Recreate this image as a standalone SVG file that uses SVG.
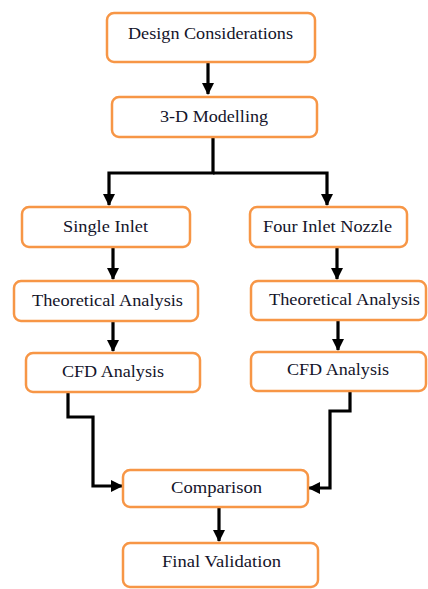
<svg xmlns="http://www.w3.org/2000/svg" width="428" height="589" viewBox="0 0 428 589">
<style>
.box{fill:#fff;stroke:#F79646;stroke-width:2.5}
.t{font-size:17px;fill:#14142a;text-anchor:middle}
.c{fill:none;stroke:#000;stroke-width:3.2}
</style>
<defs>
<marker id="ah" markerUnits="userSpaceOnUse" markerWidth="12" markerHeight="12" viewBox="0 0 12 12" refX="11" refY="6" orient="auto">
<path d="M0,0 L12,6 L0,12 Z" fill="#000"/>
</marker>
</defs>
<rect width="428" height="589" fill="#fff"/>
<g id="connectors">
<path class="c" d="M208 62 V94" marker-end="url(#ah)"/>
<path class="c" d="M213 137 V173 H109 V205" marker-end="url(#ah)"/>
<path class="c" d="M213 173 H327 V205" marker-end="url(#ah)"/>
<path class="c" d="M113 247 V279" marker-end="url(#ah)"/>
<path class="c" d="M337 247 V279" marker-end="url(#ah)"/>
<path class="c" d="M113 321 V351" marker-end="url(#ah)"/>
<path class="c" d="M338 320 V350" marker-end="url(#ah)"/>
<path class="c" d="M68 392 V417 H93 V486 H122" marker-end="url(#ah)"/>
<path class="c" d="M350 392 V411 H330 V488 H309" marker-end="url(#ah)"/>
<path class="c" d="M219 507 V541" marker-end="url(#ah)"/>
</g>
<g font-family="Liberation Serif, Times New Roman, serif">
<g id="design"><rect class="box" x="107" y="13" width="208" height="49" rx="7"/><text class="t" x="210.5" y="39" textLength="165" lengthAdjust="spacingAndGlyphs">Design Considerations</text></g>
<g id="modelling"><rect class="box" x="112" y="97" width="205" height="40" rx="7"/><text class="t" x="214" y="122" textLength="108" lengthAdjust="spacingAndGlyphs">3-D Modelling</text></g>
<g id="single"><rect class="box" x="22" y="207" width="168" height="40" rx="7"/><text class="t" x="105.5" y="232" textLength="85" lengthAdjust="spacingAndGlyphs">Single Inlet</text></g>
<g id="four"><rect class="box" x="250" y="207" width="157" height="40" rx="7"/><text class="t" x="327.5" y="232" textLength="129" lengthAdjust="spacingAndGlyphs">Four Inlet Nozzle</text></g>
<g id="theo-left"><rect class="box" x="14" y="281" width="184" height="40" rx="7"/><text class="t" x="107.5" y="306" textLength="151" lengthAdjust="spacingAndGlyphs">Theoretical Analysis</text></g>
<g id="theo-right"><rect class="box" x="251" y="281" width="175" height="39" rx="7"/><text class="t" x="344.5" y="305" textLength="151" lengthAdjust="spacingAndGlyphs">Theoretical Analysis</text></g>
<g id="cfd-left"><rect class="box" x="26" y="353" width="174" height="39" rx="7"/><text class="t" x="113" y="377" textLength="102" lengthAdjust="spacingAndGlyphs">CFD Analysis</text></g>
<g id="cfd-right"><rect class="box" x="251" y="352" width="175" height="39" rx="7"/><text class="t" x="338" y="375" textLength="102" lengthAdjust="spacingAndGlyphs">CFD Analysis</text></g>
<g id="comparison"><rect class="box" x="123" y="470" width="185" height="37" rx="7"/><text class="t" x="216.5" y="493" textLength="91" lengthAdjust="spacingAndGlyphs">Comparison</text></g>
<g id="final"><rect class="box" x="123" y="543" width="195" height="44" rx="7"/><text class="t" x="221.5" y="567" textLength="119" lengthAdjust="spacingAndGlyphs">Final Validation</text></g>
</g>
</svg>
